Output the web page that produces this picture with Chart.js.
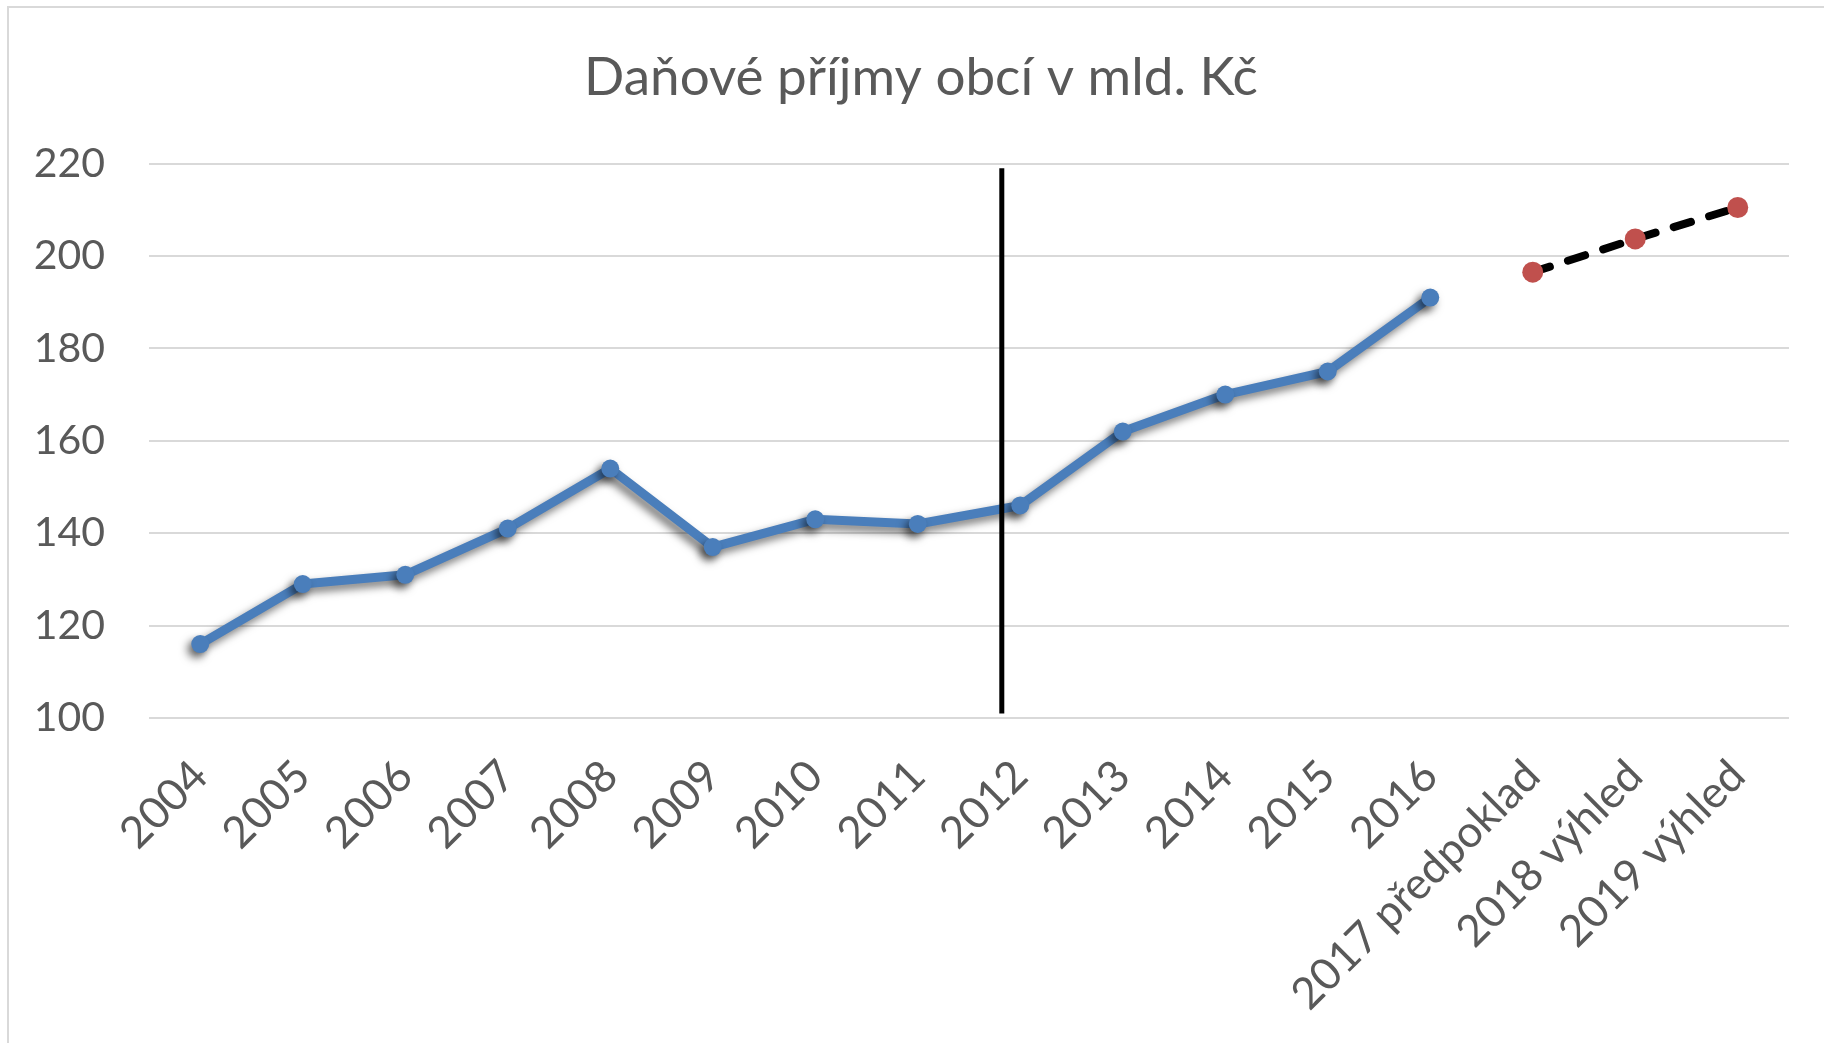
<!DOCTYPE html>
<html>
<head>
<meta charset="utf-8">
<script src="https://cdn.jsdelivr.net/npm/chart.js@4/dist/chart.umd.min.js"></script>
<style>
  html, body { margin: 0; padding: 0; background: #fff; }
  #wrap { position: absolute; left: 0; top: 0; width: 1824px; height: 1043px; }
  #frame { position: absolute; left: 7px; top: 6px; width: 1830px; height: 1060px; border: 2px solid #d9d9d9; box-sizing: border-box; pointer-events: none; }
</style>
</head>
<body>
<div id="wrap">
  <canvas id="c" width="1824" height="1043"></canvas>
  <div id="frame"></div>
</div>
<script>
const titleText = 'Daňové příjmy obcí v mld. Kč';
const categories = ['2004','2005','2006','2007','2008','2009','2010','2011','2012','2013','2014','2015','2016','2017 předpoklad','2018 výhled','2019 výhled'];
const actualValues = [116, 129, 131, 141, 154, 137, 143, 142, 146, 162, 170, 175, 191, null, null, null];
const forecastValues = [null, null, null, null, null, null, null, null, null, null, null, null, null, 196.5, 203.7, 210.5];
const yTicks = [100, 120, 140, 160, 180, 200, 220];
const dividerIndex = 7.82;
const dividerFrom = 101;
const dividerTo = 219;

const shadowPlugin = {
  id: 'shadow',
  beforeDatasetDraw(chart, args) {
    if (args.index === 0) {
      const ctx = chart.ctx;
      ctx.save();
      ctx.shadowColor = 'rgba(0,0,0,0.55)';
      ctx.shadowBlur = 9;
      ctx.shadowOffsetX = -4;
      ctx.shadowOffsetY = 5;
    }
  },
  afterDatasetDraw(chart, args) {
    if (args.index === 0) chart.ctx.restore();
  }
};

const titleShiftPlugin = {
  id: 'titleShift',
  afterLayout(chart) {
    if (chart.titleBlock) chart.titleBlock.left = 53;
  }
};

const dividerPlugin = {
  id: 'divider',
  afterDatasetsDraw(chart) {
    const { ctx, scales: { x, y } } = chart;
    const px = x.getPixelForValue(dividerIndex);
    ctx.save();
    ctx.strokeStyle = '#000';
    ctx.lineWidth = 5;
    ctx.beginPath();
    ctx.moveTo(px, y.getPixelForValue(dividerTo));
    ctx.lineTo(px, y.getPixelForValue(dividerFrom));
    ctx.stroke();
    ctx.restore();
  }
};

new Chart(document.getElementById('c'), {
  type: 'line',
  data: {
    labels: categories,
    datasets: [
      {
        data: actualValues,
        borderColor: '#4a7ebb',
        backgroundColor: '#4a7ebb',
        borderWidth: 9,
        borderJoinStyle: 'round',
        pointRadius: 9,
        pointHoverRadius: 9,
        pointBorderWidth: 0,
        pointBackgroundColor: '#4a7ebb',
        tension: 0,
        spanGaps: false
      },
      {
        data: forecastValues,
        borderColor: '#000',
        backgroundColor: '#c0504d',
        borderWidth: 8,
        borderDash: [18, 19],
        borderCapStyle: 'round',
        pointRadius: 10.5,
        pointHoverRadius: 10.5,
        pointBorderWidth: 0,
        pointBackgroundColor: '#c0504d',
        tension: 0
      }
    ]
  },
  options: {
    responsive: false,
    animation: false,
    devicePixelRatio: 1,
    layout: { padding: { left: 0, right: 35, top: 0, bottom: 0 } },
    plugins: {
      legend: { display: false },
      tooltip: { enabled: false },
      title: {
        display: true,
        text: titleText,
        color: '#595959',
        font: { family: 'Lato', size: 53, weight: 'normal' },
        padding: { top: 46, bottom: 54 }
      }
    },
    scales: {
      x: {
        offset: true,
        grid: { display: false, drawTicks: false },
        border: { display: false },
        ticks: {
          color: '#595959',
          font: { family: 'Lato', size: 44 },
          minRotation: 45,
          maxRotation: 45,
          autoSkip: false,
          padding: 32
        },
        afterFit(scale) { scale.height = 325; }
      },
      y: {
        min: 100,
        max: 220,
        afterBuildTicks(scale) { scale.ticks = yTicks.map(v => ({ value: v })); },
        grid: { color: '#d9d9d9', lineWidth: 2, drawTicks: false },
        border: { display: false },
        ticks: {
          color: '#595959',
          font: { family: 'Lato', size: 41 },
          padding: 44
        },
        afterFit(scale) { scale.width = 149; }
      }
    }
  },
  plugins: [shadowPlugin, titleShiftPlugin, dividerPlugin]
});
</script>
</body>
</html>
